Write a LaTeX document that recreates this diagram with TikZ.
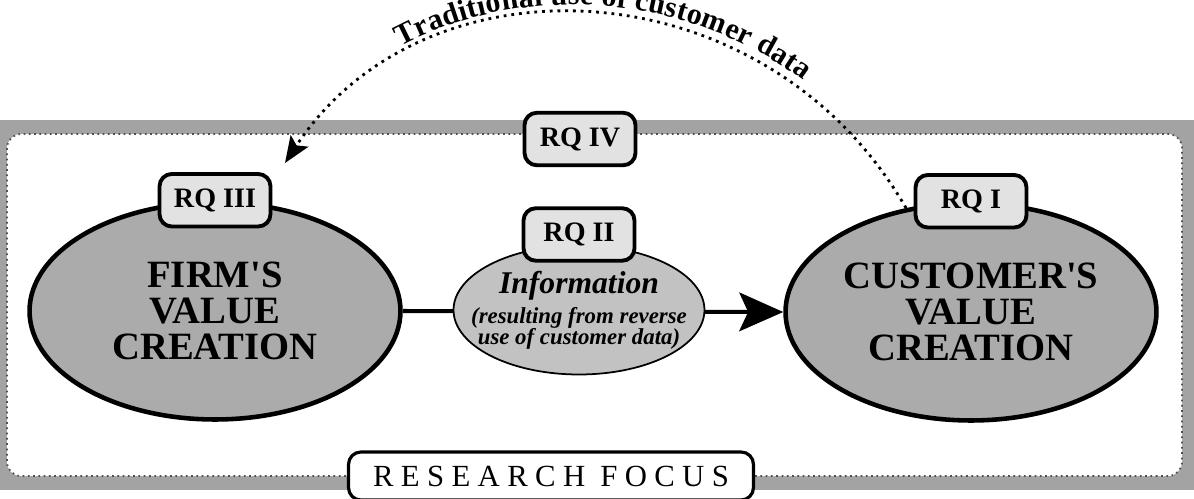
\documentclass[tikz,border=0pt]{standalone}
\usepackage{fontspec}
\setmainfont{Liberation Serif}
\usetikzlibrary{arrows.meta, positioning, shapes.geometric, decorations.text}
\definecolor{cframe}{HTML}{A3A3A3}
\definecolor{cfill}{HTML}{ABABAB}
\definecolor{cinfo}{HTML}{C2C2C2}
\definecolor{cbox}{HTML}{E2E2E2}
\definecolor{cdots}{HTML}{505050}
\newcommand{\infosmall}{\fontsize{13}{13.5}\selectfont}
\tikzset{
  every picture/.style={line width=1.2pt},
  value/.style={ellipse, draw, fill=cfill, line width=2.6pt, align=center, inner sep=0pt,
    minimum width=7.42cm, minimum height=4.34cm, font=\bfseries\fontsize{22}{20.5}\selectfont},
  info/.style={ellipse, draw, fill=cinfo, line width=1pt, align=center, inner xsep=-12pt,
    inner ysep=0pt, minimum width=5.02cm, minimum height=2.58cm, font=\bfseries\itshape},
  rq/.style={draw, fill=cbox, rounded corners=7pt, line width=2.2pt, minimum width=2.22cm,
    minimum height=1.05cm, font=\bfseries\fontsize{16}{16}\selectfont},
  focus/.style={draw, fill=white, rounded corners=7pt, line width=1.8pt, minimum width=8.1cm,
    minimum height=0.96cm, font=\fontsize{17.5}{17.5}\selectfont},
  flow/.style={-{Stealth[length=25pt, width=22pt, inset=5pt]}, line width=2.3pt},
  tradition/.style={-{Stealth[length=15pt, width=12pt, inset=3pt]}, line width=1.6pt,
    dash pattern=on 1.6pt off 2.8pt},
}

\begin{document}
\begin{tikzpicture}[x=0.02cm, y=-0.02cm]
  \useasboundingbox (0,0) rectangle (1194,498);
  % research focus frame
  \fill[cframe] (0,120) rectangle (1194,490);
  \draw[fill=white, draw=cdots, line width=1pt, dotted, rounded corners=8pt] (7,134) rectangle (1182,476);
  \node[focus] (focus) at (551,476) {\addfontfeature{LetterSpace=24}RESEARCH FOCUS};

  % value creation
  \node[value] (firm) at (215,311) {FIRM\textquotesingle S\\VALUE\\CREATION};
  \node[value] (cust) at (971,312) {CUSTOMER\textquotesingle S\\VALUE\\CREATION};
  \draw[flow] (firm.east) -- (cust.west);
  \node[info] (info) at (579,310) {\fontsize{18}{20}\selectfont Information\\[3pt]
    \infosmall (resulting from reverse\\ \infosmall use of customer data)};

  % research questions
  \node[rq] (rq3) at (firm.north) {RQ III};
  \node[rq] (rq1) at (cust.north) {RQ I};
  \node[rq, above=-0.36cm of info] (rq2) {RQ II};
  \node[rq] (rq4) at (580,139) {RQ IV};

  % traditional use
  \coordinate (tip) at (285,163);
  \draw[tradition] (cust.122) .. controls (765,-36) and (425,-50) .. (tip);
  \path[decorate, decoration={text along path, text align=center, raise=5pt,
    text={|\bfseries\fontsize{17}{17}\selectfont|Traditional use of customer data}}]
    (tip) .. controls (425,-50) and (765,-36) .. (cust.122);
\end{tikzpicture}
\end{document}
